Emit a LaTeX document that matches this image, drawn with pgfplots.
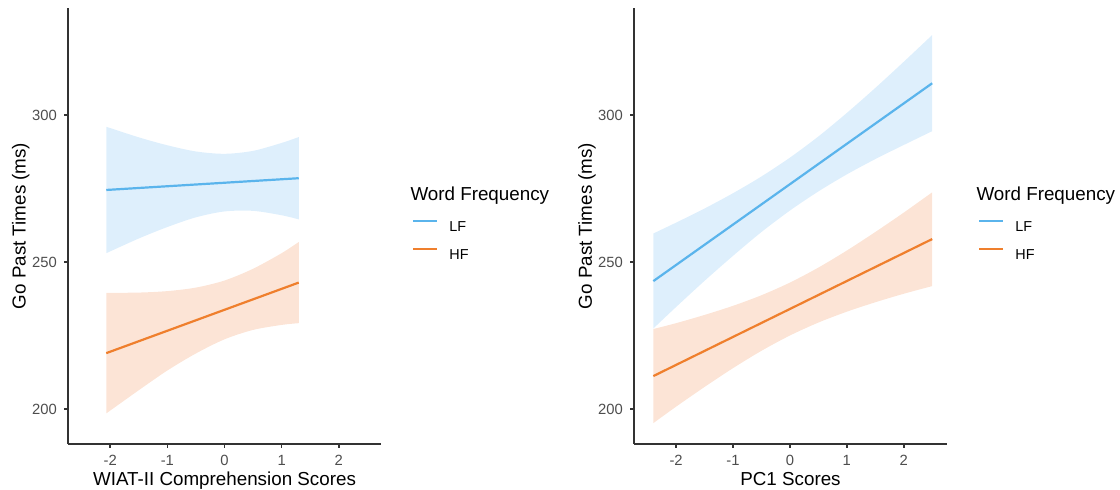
\documentclass[border=0pt]{standalone}
\usepackage{fontspec}
\setmainfont{Liberation Sans}
\usepackage{pgfplots}
\pgfplotsset{compat=1.18}
\usepgfplotslibrary{fillbetween}
\definecolor{lfline}{HTML}{5AB4EC}
\definecolor{hfline}{HTML}{EF7F2D}
\definecolor{lffill}{HTML}{DEEFFC}
\definecolor{hffill}{HTML}{FCE4D6}
\definecolor{axisgray}{HTML}{333333}
\definecolor{tickgray}{HTML}{4D4D4D}
\pgfplotsset{
 panel/.style={
  scale only axis, width=156.5pt, height=218pt,
  ymin=188.1, ymax=336.4, clip=false,
  axis x line*=bottom, axis y line*=left,
  axis line style={axisgray, line width=0.8pt, -},
  ytick={200,250,300}, xtick={-2,-1,0,1,2},
  tick style={axisgray, line width=0.8pt},
  tick align=outside, major tick length=2pt,
  ticklabel style={font=\fontsize{7.4}{8}\selectfont, text=tickgray},
  /pgf/number format/assume math mode=true,
  label style={font=\fontsize{9.4}{11}\selectfont},
  xlabel style={at={(axis description cs:0.5,-0.0963)}, anchor=base},
  ylabel style={at={(axis description cs:-0.135,0.5)}, anchor=base},
  ylabel={Go Past Times (ms)},
  legend style={at={(axis description cs:1.100,0.5138)}, anchor=north west,
    draw=none, fill=none, inner sep=0pt, outer sep=0pt, row sep=8.3pt,
    font=\fontsize{7.2}{8}\selectfont,
    nodes={inner sep=0pt, text height=5pt, text depth=0pt}},
  legend cell align=left,
  legend image code/.code={\draw[##1,line width=1.1pt] (0pt,2.6pt) -- (12pt,2.6pt); \path[draw=none] (0pt,0pt) -- (18pt,0pt);},
 }
}
\begin{document}
\begin{tikzpicture}
% Left panel
\begin{axis}[panel, at={(34pt,23pt)}, anchor=south west,
  xmin=-2.74, xmax=2.74, xlabel={WIAT-II Comprehension Scores}]
\addplot[draw=none, name path=lfu, forget plot, smooth] coordinates {(-2.07,296.0) (-1.5,292.4) (-1,289.7) (-0.5,287.6) (0,286.8) (0.5,287.8) (1,290.5) (1.3,292.5)};
\addplot[draw=none, name path=lfl, forget plot, smooth] coordinates {(-2.07,253.0) (-1.5,258.0) (-1,261.9) (-0.5,265.2) (0,267.2) (0.5,267.4) (1,265.9) (1.3,264.5)};
\addplot[lffill, draw=none, forget plot] fill between[of=lfu and lfl];
\addplot[draw=none, name path=hfu, forget plot, smooth] coordinates {(-2.07,239.5) (-1.5,239.6) (-1,240.1) (-0.5,241.3) (0,243.7) (0.5,247.7) (1,253.0) (1.3,256.8)};
\addplot[draw=none, name path=hfl, forget plot, smooth] coordinates {(-2.07,198.5) (-1.5,206.4) (-1,213.1) (-0.5,218.9) (0,223.7) (0.5,226.9) (1,228.6) (1.3,229.2)};
\addplot[hffill, draw=none, forget plot] fill between[of=hfu and hfl];
\addplot[lfline, line width=1.1pt] coordinates {(-2.07,274.5) (1.3,278.5)};
\addplot[hfline, line width=1.1pt] coordinates {(-2.07,219.0) (1.3,243.0)};
\legend{LF,HF}
\node[anchor=base west, font=\fontsize{9.4}{11}\selectfont, inner sep=0pt] at (axis description cs:1.093,0.5596) {Word Frequency};
\end{axis}
% Right panel
\begin{axis}[panel, at={(317pt,23pt)}, anchor=south west,
  xmin=-2.74, xmax=2.76, xlabel={PC1 Scores}]
\addplot[draw=none, name path=lfu, forget plot, smooth] coordinates {(-2.4,259.7) (-2,263.4) (-1.5,268.2) (-1,273.4) (-0.5,279.1) (0,285.5) (0.5,292.7) (1,300.7) (1.5,309.2) (2,318.1) (2.5,327.2)};
\addplot[draw=none, name path=lfl, forget plot, smooth] coordinates {(-2.4,227.4) (-2,234.7) (-1.5,243.6) (-1,252.1) (-0.5,260.2) (0,267.5) (0.5,274.0) (1,279.8) (1.5,285.0) (2,289.8) (2.5,294.5)};
\addplot[lffill, draw=none, forget plot] fill between[of=lfu and lfl];
\addplot[draw=none, name path=hfu, forget plot, smooth] coordinates {(-2.4,227.2) (-2,229.2) (-1.5,232.0) (-1,235.1) (-0.5,238.7) (0,243.0) (0.5,248.1) (1,253.9) (1.5,260.2) (2,266.8) (2.5,273.7)};
\addplot[draw=none, name path=hfl, forget plot, smooth] coordinates {(-2.4,195.2) (-2,200.8) (-1.5,207.5) (-1,213.9) (-0.5,219.8) (0,225.0) (0.5,229.4) (1,233.1) (1.5,236.3) (2,239.2) (2.5,241.8)};
\addplot[hffill, draw=none, forget plot] fill between[of=hfu and hfl];
\addplot[lfline, line width=1.1pt] coordinates {(-2.4,243.5) (2.5,310.8)};
\addplot[hfline, line width=1.1pt] coordinates {(-2.4,211.2) (2.5,257.8)};
\legend{LF,HF}
\node[anchor=base west, font=\fontsize{9.4}{11}\selectfont, inner sep=0pt] at (axis description cs:1.093,0.5596) {Word Frequency};
\end{axis}
\pgfresetboundingbox
\path[use as bounding box] (0,0) rectangle (560pt,245pt);
\end{tikzpicture}
\end{document}
